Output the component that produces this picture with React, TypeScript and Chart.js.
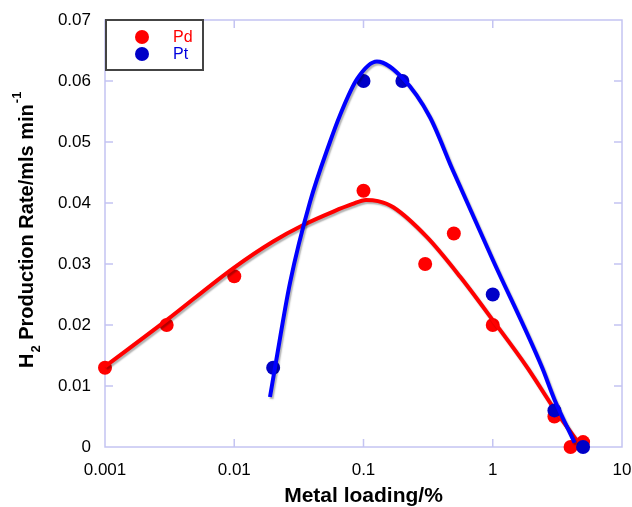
import React, { useEffect, useRef } from "react";
import { Chart, registerables } from "chart.js";

Chart.register(...registerables);

// Measured points
const PD_X = [0.001, 0.003, 0.01, 0.1, 0.3, 0.5, 1, 3, 4, 5];
const PD_Y = [0.013, 0.02, 0.028, 0.042, 0.03, 0.035, 0.02, 0.005, 0.0, 0.0008];
const PT_X = [0.02, 0.1, 0.2, 1, 3, 5];
const PT_Y = [0.013, 0.06, 0.06, 0.025, 0.006, 0.0];

// Fitted curves
const PD_FIT_X = [0.001, 0.003, 0.0098, 0.02, 0.0342, 0.0584, 0.0815, 0.1045, 0.1295, 0.17, 0.31, 0.56, 1, 1.84, 3, 4.6];
const PD_FIT_Y = [0.0132, 0.0208, 0.0293, 0.0337, 0.0364, 0.0386, 0.0398, 0.0405, 0.0403, 0.0393, 0.0344, 0.0279, 0.0208, 0.0131, 0.0062, 0.0007];
const PT_FIT_X = [0.0189, 0.0207, 0.027, 0.0386, 0.055, 0.0658, 0.089, 0.127, 0.2, 0.326, 0.49, 1, 2.4, 3, 4.3];
const PT_FIT_Y = [0.0082, 0.0131, 0.0269, 0.0402, 0.05, 0.0544, 0.0603, 0.0632, 0.0605, 0.0541, 0.0454, 0.0307, 0.0131, 0.0078, 0.0007];

const X_TICKS = [0.001, 0.01, 0.1, 1, 10];
const X_TICK_LABELS = ["0.001", "0.01", "0.1", "1", "10"];
const Y_TICKS = [0, 0.01, 0.02, 0.03, 0.04, 0.05, 0.06, 0.07];

const SERIES = ["Pd", "Pt"];
const RED = "#ff0000";
const BLUE_LINE = "#0000ff";
const BLUE_PT = "#0000c8";
const FRAME = "#c4c4f2";
const FONT = '"Liberation Sans", Arial, Helvetica, sans-serif';

const toXY = (xs: number[], ys: number[]) => xs.map((x, i) => ({ x, y: ys[i] }));

const decorPlugin = {
  id: "decor",
  beforeDatasetsDraw(chart: any) {
    const { ctx, chartArea, scales } = chart;
    const { left, right, top, bottom } = chartArea;
    ctx.save();
    ctx.strokeStyle = FRAME;
    ctx.lineWidth = 1.5;
    ctx.strokeRect(left, top, right - left, bottom - top);
    const tl = 8;
    ctx.beginPath();
    X_TICKS.slice(1, -1).forEach((v) => {
      const px = scales.x.getPixelForValue(v);
      ctx.moveTo(px, bottom);
      ctx.lineTo(px, bottom - tl);
      ctx.moveTo(px, top);
      ctx.lineTo(px, top + tl);
    });
    Y_TICKS.slice(1, -1).forEach((v) => {
      const py = scales.y.getPixelForValue(v);
      ctx.moveTo(left, py);
      ctx.lineTo(left + tl, py);
      ctx.moveTo(right, py);
      ctx.lineTo(right - tl, py);
    });
    ctx.stroke();
    ctx.restore();
  },
  beforeDatasetDraw(chart: any, args: any) {
    const ds = chart.data.datasets[args.index];
    const ctx = chart.ctx;
    ctx.save();
    if (ds.showLine) {
      ctx.shadowColor = "rgba(0,0,0,0.3)";
      ctx.shadowOffsetX = 1.5;
      ctx.shadowOffsetY = 2;
      ctx.shadowBlur = 1.5;
    }
  },
  afterDatasetDraw(chart: any) {
    chart.ctx.restore();
  },
  afterDraw(chart: any) {
    const { ctx, chartArea } = chart;
    ctx.save();
    // x title
    ctx.fillStyle = "#000";
    ctx.font = `bold 21px ${FONT}`;
    ctx.textAlign = "center";
    ctx.textBaseline = "alphabetic";
    ctx.fillText("Metal loading/%", (chartArea.left + chartArea.right) / 2, 502);
    // y title
    ctx.save();
    ctx.translate(33, 368);
    ctx.rotate(-Math.PI / 2);
    ctx.textAlign = "left";
    let cx = 0;
    ctx.font = `bold 20px ${FONT}`;
    ctx.fillText("H", cx, 0);
    cx += ctx.measureText("H").width;
    ctx.font = `bold 13px ${FONT}`;
    ctx.fillText("2", cx + 1, 7);
    cx += ctx.measureText("2").width + 1;
    ctx.font = `bold 20px ${FONT}`;
    const main = " Production Rate/mls min";
    ctx.fillText(main, cx, 0);
    cx += ctx.measureText(main).width;
    ctx.font = `bold 13px ${FONT}`;
    ctx.fillText("-1", cx + 1, -12);
    ctx.restore();
    // legend
    const bx = 106, by = 20, bw = 97, bh = 50;
    ctx.fillStyle = "#fff";
    ctx.fillRect(bx, by, bw, bh);
    ctx.strokeStyle = "#444";
    ctx.lineWidth = 2;
    ctx.strokeRect(bx, by, bw, bh);
    const rows = [
      { label: SERIES[0], dot: RED, text: RED, y: 37 },
      { label: SERIES[1], dot: BLUE_PT, text: "#0000dd", y: 54 },
    ];
    ctx.font = `16px ${FONT}`;
    ctx.textBaseline = "middle";
    ctx.textAlign = "left";
    rows.forEach((r) => {
      ctx.fillStyle = r.dot;
      ctx.beginPath();
      ctx.arc(142, r.y, 7, 0, Math.PI * 2);
      ctx.fill();
      ctx.fillStyle = r.text;
      ctx.fillText(r.label, 173, r.y + 1);
    });
    ctx.restore();
  },
};

export default function App() {
  const ref = useRef<HTMLCanvasElement | null>(null);
  useEffect(() => {
    if (!ref.current) return;
    const curve = {
      showLine: true,
      pointRadius: 0,
      borderWidth: 4,
      cubicInterpolationMode: "monotone",
      clip: false,
    };
    const chart = new Chart(ref.current, {
      type: "scatter",
      data: {
        datasets: [
          {
            ...curve,
            label: "Pt fit",
            data: toXY(PT_FIT_X, PT_FIT_Y),
            borderColor: BLUE_LINE,
            order: 0,
          } as any,
          {
            label: SERIES[1],
            data: toXY(PT_X, PT_Y),
            showLine: false,
            pointRadius: 7,
            pointBackgroundColor: BLUE_PT,
            pointBorderWidth: 0,
            order: 1,
            clip: false,
          },
          {
            ...curve,
            label: "Pd fit",
            data: toXY(PD_FIT_X, PD_FIT_Y),
            borderColor: RED,
            order: 2,
          } as any,
          {
            label: SERIES[0],
            data: toXY(PD_X, PD_Y),
            showLine: false,
            pointRadius: 7,
            pointBackgroundColor: RED,
            pointBorderWidth: 0,
            order: 3,
            clip: false,
          },
        ],
      },
      options: {
        animation: false,
        responsive: false,
        maintainAspectRatio: false,
        events: [],
        layout: { padding: { left: 0, right: 10, top: 20, bottom: 0 } },
        plugins: { legend: { display: false }, tooltip: { enabled: false } },
        scales: {
          x: {
            type: "logarithmic",
            min: 0.001,
            max: 10,
            grid: { display: false, drawTicks: false },
            border: { display: false },
            afterBuildTicks: (s: any) => {
              s.ticks = X_TICKS.map((v) => ({ value: v }));
            },
            afterFit: (s: any) => {
              s.height = 60;
              s.paddingLeft = 0;
              s.paddingRight = 0;
            },
            ticks: {
              autoSkip: false,
              maxRotation: 0,
              padding: 13,
              color: "#000",
              font: { family: FONT, size: 17 },
              callback: (v: any) => {
                const i = X_TICKS.findIndex((t) => Math.abs(t - v) / t < 1e-6);
                return i >= 0 ? X_TICK_LABELS[i] : "";
              },
            },
          },
          y: {
            min: 0,
            max: 0.07,
            grid: { display: false, drawTicks: false },
            border: { display: false },
            afterBuildTicks: (s: any) => {
              s.ticks = Y_TICKS.map((v) => ({ value: v }));
            },
            afterFit: (s: any) => {
              s.width = 105;
              s.paddingTop = 0;
              s.paddingBottom = 0;
            },
            ticks: {
              padding: 14,
              color: "#000",
              font: { family: FONT, size: 17 },
              callback: (v: any) => String(Number(Number(v).toFixed(3))),
            },
          },
        },
      },
      plugins: [decorPlugin],
    });
    return () => chart.destroy();
  }, []);
  return (
    <div style={{ position: "fixed", left: 0, top: 0, width: 632, height: 507, background: "#fff" }}>
      <canvas ref={ref} width={632} height={507} style={{ display: "block" }} />
    </div>
  );
}
